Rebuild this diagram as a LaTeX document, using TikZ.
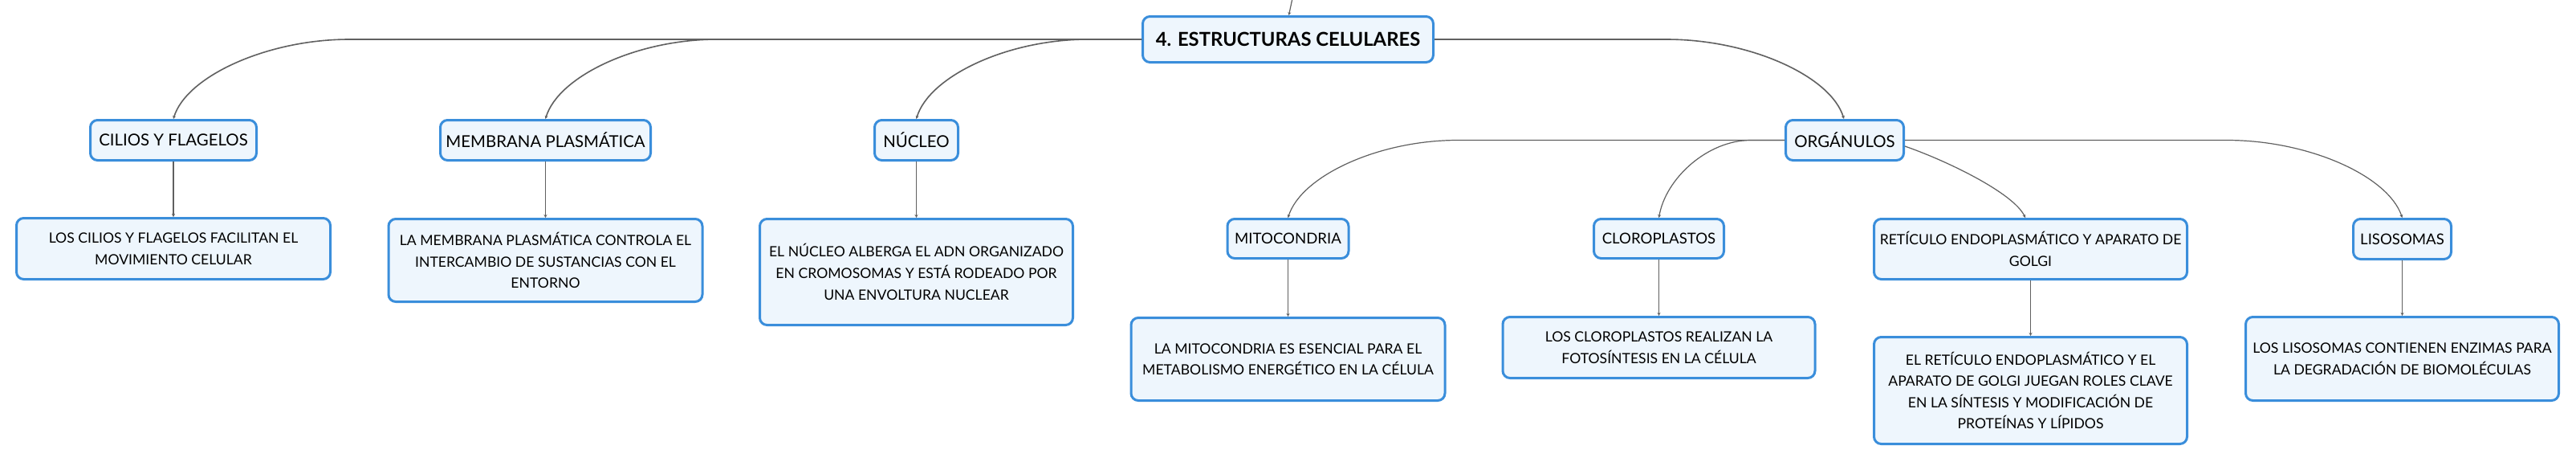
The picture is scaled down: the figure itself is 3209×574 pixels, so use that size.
\documentclass[tikz,border=0pt]{standalone}
\usepackage{fontspec}
\setmainfont{Lato}
\usetikzlibrary{arrows.meta,calc}
\definecolor{boxblue}{HTML}{3A8EDB}
\definecolor{boxfill}{HTML}{EEF6FD}
\definecolor{linegray}{HTML}{606060}
\tikzset{
  box/.style={draw=boxblue, line width=1.5pt, fill=boxfill, rounded corners=4.5pt, align=center, inner sep=0pt, text=black},
  root/.style={box, font=\fontsize{11.9}{14}\selectfont\bfseries},
  lvla/.style={box, font=\fontsize{10.2}{13.3}\selectfont},
  lvlb/.style={box, font=\fontsize{9.3}{13.3}\selectfont},
  desc/.style={box, font=\fontsize{8.8}{13.3}\selectfont},
  conn/.style={draw=linegray, line width=0.6pt, -{Stealth[length=2pt,width=2pt]}},
  rootconn/.style={conn, line width=0.8pt},
}
\begin{document}
\begin{tikzpicture}[x=0.5pt,y=-0.5pt]
\useasboundingbox (0,0) rectangle (3209,574);
\fill[white] (0,0) rectangle (3209,574);
% nodes
\node[root, minimum width=181pt, minimum height=28.5pt] (main) at (1604.5,49) {4. ESTRUCTURAS CELULARES};
\node[lvla, minimum width=103.5pt, minimum height=25pt] (cilios) at (216,174.5) {CILIOS Y FLAGELOS};
\node[desc, minimum width=195.5pt, minimum height=38pt] (ciliosD) at (216,309.5) {LOS CILIOS Y FLAGELOS FACILITAN EL\\MOVIMIENTO CELULAR};
\node[lvla, minimum width=131pt, minimum height=25pt] (membrana) at (679.5,174.5) {MEMBRANA PLASMÁTICA};
\node[desc, minimum width=195.5pt, minimum height=51.5pt] (membranaD) at (679.5,324) {LA MEMBRANA PLASMÁTICA CONTROLA EL\\INTERCAMBIO DE SUSTANCIAS CON EL\\ENTORNO};
\node[lvla, minimum width=52pt, minimum height=25pt] (nucleo) at (1141.5,174.5) {NÚCLEO};
\node[desc, minimum width=195pt, minimum height=66pt] (nucleoD) at (1141.5,338.5) {EL NÚCLEO ALBERGA EL ADN ORGANIZADO\\EN CROMOSOMAS Y ESTÁ RODEADO POR\\UNA ENVOLTURA NUCLEAR};
\node[lvla, minimum width=73.5pt, minimum height=25pt] (organulos) at (2298,174.5) {ORGÁNULOS};
\node[lvlb, minimum width=75.5pt, minimum height=24.5pt] (mito) at (1604.5,297) {MITOCONDRIA};
\node[desc, minimum width=195.5pt, minimum height=51.5pt] (mitoD) at (1604.5,447) {LA MITOCONDRIA ES ESENCIAL PARA EL\\METABOLISMO ENERGÉTICO EN LA CÉLULA};
\node[lvlb, minimum width=81pt, minimum height=24.5pt] (cloro) at (2066.5,297) {CLOROPLASTOS};
\node[desc, minimum width=194.5pt, minimum height=38pt] (cloroD) at (2066.5,432.5) {LOS CLOROPLASTOS REALIZAN LA\\FOTOSÍNTESIS EN LA CÉLULA};
\node[desc, minimum width=195pt, minimum height=37.5pt] (ret) at (2529.5,310) {RETÍCULO ENDOPLASMÁTICO Y APARATO DE\\GOLGI};
\node[desc, minimum width=195pt, minimum height=66.5pt] (retD) at (2529.5,486) {EL RETÍCULO ENDOPLASMÁTICO Y EL\\APARATO DE GOLGI JUEGAN ROLES CLAVE\\EN LA SÍNTESIS Y MODIFICACIÓN DE\\PROTEÍNAS Y LÍPIDOS};
\node[lvlb, minimum width=61pt, minimum height=25pt] (liso) at (2992.5,297.5) {LISOSOMAS};
\node[desc, minimum width=195pt, minimum height=52pt] (lisoD) at (2992.5,446.5) {LOS LISOSOMAS CONTIENEN ENZIMAS PARA\\LA DEGRADACIÓN DE BIOMOLÉCULAS};
% knees
\coordinate (topin) at (1610,-2);
\coordinate (k1) at (435,49);
\coordinate (k2) at (893,49);
\coordinate (k3) at (1355,49);
\coordinate (k4) at (2076,49);
\coordinate (k5) at (1816,174.5);
\coordinate (k6) at (2181,174.5);
\coordinate (k8) at (2774,174.5);
% root connectors
\draw[conn] (topin) -- ($(main.north)+(1,0)$);
\draw[rootconn] (main.west) -- (k1) .. controls (333,49) and (232,95) .. (cilios.north);
\draw[rootconn] (main.west) -- (k2) .. controls (793,49) and (695.5,95) .. (membrana.north);
\draw[rootconn] (main.west) -- (k3) .. controls (1255,49) and (1157.5,95) .. (nucleo.north);
\draw[rootconn] (main.east) -- (k4) .. controls (2180,49) and (2281,95) .. ($(organulos.north)+(-1,0)$);
% organulos connectors
\draw[conn] (organulos.west) -- (k5) .. controls (1717,174.5) and (1621,219) .. (mito.north);
\draw[conn] (organulos.west) -- (k6) .. controls (2127,174.5) and (2075,222) .. (cloro.north);
\draw[conn] ($(organulos.east)+(0,7.5)$) .. controls (2425,200) and (2508,240) .. ($(ret.north)+(-6.5,0)$);
\draw[conn] (organulos.east) -- (k8) .. controls (2876,174.5) and (2975,219) .. (liso.north);
% vertical connectors
\draw[conn] (cilios.south) -- (ciliosD.north);
\draw[conn] (membrana.south) -- (membranaD.north);
\draw[conn] (nucleo.south) -- (nucleoD.north);
\draw[conn] (mito.south) -- (mitoD.north);
\draw[conn] (cloro.south) -- (cloroD.north);
\draw[conn] (ret.south) -- (retD.north);
\draw[conn] (liso.south) -- (lisoD.north);
\end{tikzpicture}
\end{document}
